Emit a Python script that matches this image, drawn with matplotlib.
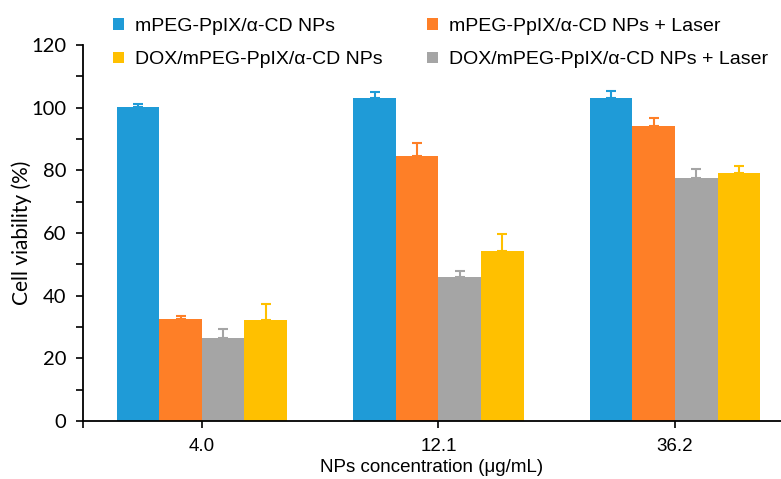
import matplotlib.pyplot as plt
import numpy as np
from matplotlib.patches import Patch

# Данни, отчетени от графиката
concentrations = ["4.0", "12.1", "36.2"]
series_names = [
    "mPEG-PpIX/\u03b1-CD NPs",
    "mPEG-PpIX/\u03b1-CD NPs + Laser",
    "DOX/mPEG-PpIX/\u03b1-CD NPs + Laser",
    "DOX/mPEG-PpIX/\u03b1-CD NPs",
]
np_only = [100.1, 103.0, 103.0]
np_only_err = [1.0, 2.0, 2.2]
np_laser = [32.6, 84.6, 94.3]
np_laser_err = [1.0, 4.1, 2.3]
dox_laser = [26.4, 46.0, 77.6]
dox_laser_err = [3.0, 2.0, 2.9]
dox_only = [32.2, 54.4, 79.1]
dox_only_err = [5.1, 5.2, 2.2]
y_ticks = [0, 20, 40, 60, 80, 100, 120]

values = [np_only, np_laser, dox_laser, dox_only]
errors = [np_only_err, np_laser_err, dox_laser_err, dox_only_err]
colors = ["#1F9BD7", "#FE7F27", "#A5A5A5", "#FFC000"]

sans = ["Liberation Sans", "DejaVu Sans"]
calibri_like = ["Lato", "DejaVu Sans"]

fig = plt.figure(figsize=(7.81, 4.79), dpi=100)
ax = fig.add_axes([0.106, 0.121, 0.894, 0.785])

x = np.arange(len(concentrations))
width = 0.18
offsets = [-1.5 * width, -0.5 * width, 0.5 * width, 1.5 * width]
for vals, errs, col, off in zip(values, errors, colors, offsets):
    ax.bar(x + off, vals, width, color=col, zorder=2)
    ax.errorbar(x + off, vals, yerr=[np.zeros(len(vals)), errs], fmt="none",
                ecolor=col, elinewidth=1.5, capsize=3.8, capthick=1.5, zorder=3)

ax.set_xlim(-0.503, 2.448)
ax.set_ylim(0, 120)
ax.set_yticks(y_ticks)
ax.set_yticklabels([str(v) for v in y_ticks], family=calibri_like, fontsize=14.5)
ax.set_yticks(np.arange(10, 120, 20), minor=True)
ax.set_xticks(x)
ax.set_xticks([-0.503], minor=True)
ax.set_xticklabels(concentrations, family=sans, fontsize=13.5)

ax.tick_params(axis="y", which="both", direction="out", length=5, width=1.2, pad=7)
ax.tick_params(axis="x", which="both", direction="out", length=5, width=1.2, pad=7)
ax.spines["top"].set_visible(False)
ax.spines["right"].set_visible(False)
ax.spines["left"].set_linewidth(1.3)
ax.spines["bottom"].set_linewidth(1.3)

ax.set_ylabel("Cell viability (%)", family=calibri_like, fontsize=15)
ax.yaxis.set_label_coords(-0.073, 0.5)
ax.set_xlabel("NPs concentration (\u03bcg/mL)", family=sans, fontsize=13.5, labelpad=3)

# Легенда: две колони, ред като в оригинала
order = [0, 3, 1, 2]
handles = [Patch(facecolor=colors[i], edgecolor="none") for i in order]
labels = [series_names[i] for i in order]
fig.legend(handles, labels, ncol=2, loc="upper left", bbox_to_anchor=(0.132, 0.983),
           frameon=False, prop={"family": sans, "size": 14},
           handlelength=0.55, handleheight=0.55, handletextpad=0.6,
           columnspacing=2.28, labelspacing=0.85, borderpad=0)

fig.savefig("out.png", dpi=100)
